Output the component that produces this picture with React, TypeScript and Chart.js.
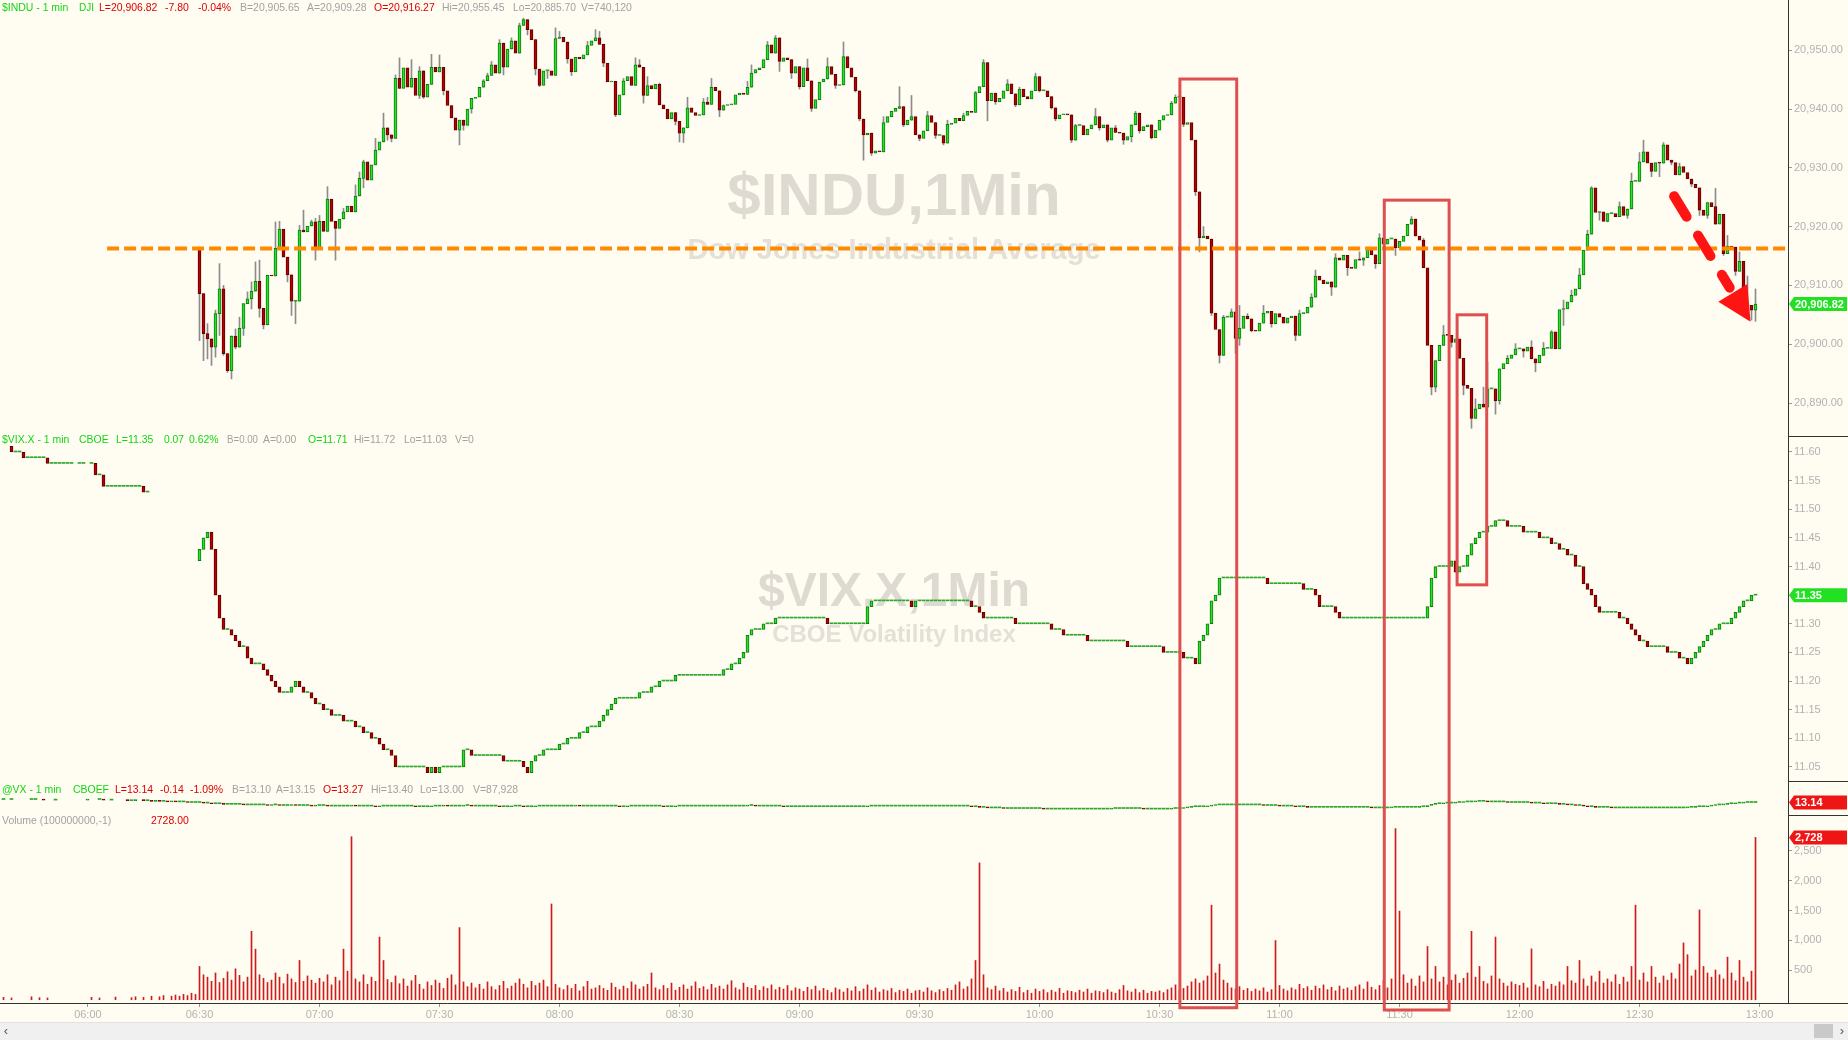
import React, { useEffect, useRef } from "react";
import { Chart, registerables } from "chart.js";

Chart.register(...registerables);

// ======================= DATA =======================
// x values are minutes after 06:30 (bar index); pre-market bars have negative minutes
const TIME_TICK_MIN = [-27.9, 0, 30, 60, 90, 120, 150, 180, 210, 240, 270, 300, 330, 360, 390];
const TIME_TICK_LABEL = ["06:00", "06:30", "07:00", "07:30", "08:00", "08:30", "09:00", "09:30", "10:00", "10:30", "11:00", "11:30", "12:00", "12:30", "13:00"];

// $INDU 1-min closes from 06:30
const INDU_OPEN = 20916.27;
const INDU_CLOSE = [
  20908.6, 20901.8, 20900.9, 20899.5, 20905.2, 20909.4, 20898.4, 20895.5, 20901.4, 20899.5,
  20902.7, 20906.9, 20907.7, 20909.0, 20910.7, 20906.1, 20903.3, 20911.7, 20911.6, 20916.3,
  20919.6, 20914.8, 20911.8, 20907.3, 20907.3, 20919.4, 20919.1, 20920.1, 20920.8, 20916.4,
  20920.9, 20919.2, 20924.7, 20920.9, 20919.7, 20921.3, 20922.5, 20923.5, 20922.5, 20925.2,
  20928.2, 20931.0, 20927.9, 20930.5, 20933.0, 20934.4, 20936.8, 20935.6, 20935.0, 20945.2,
  20943.5, 20947.0, 20943.7, 20945.2, 20942.3, 20946.5, 20942.0, 20944.2, 20947.1, 20946.3,
  20947.1, 20943.1, 20940.6, 20938.5, 20936.4, 20938.1, 20937.2, 20940.0, 20941.8, 20942.0,
  20943.7, 20944.8, 20945.7, 20947.5, 20946.1, 20951.2, 20947.1, 20950.2, 20951.6, 20949.5,
  20954.2, 20955.2, 20953.5, 20951.8, 20946.8, 20944.0, 20946.5, 20946.5, 20945.7, 20952.0,
  20952.2, 20951.4, 20948.5, 20946.3, 20948.8, 20948.5, 20949.2, 20950.8, 20951.6, 20952.1,
  20951.0, 20947.8, 20944.6, 20944.7, 20939.0, 20942.4, 20944.8, 20945.5, 20944.0, 20947.5,
  20947.1, 20942.3, 20944.0, 20943.4, 20944.2, 20940.7, 20940.0, 20938.3, 20939.4, 20937.9,
  20935.9, 20936.8, 20940.2, 20939.4, 20938.9, 20939.0, 20941.2, 20940.8, 20943.7, 20943.1,
  20939.8, 20940.6, 20940.7, 20940.8, 20942.4, 20942.7, 20942.5, 20943.7, 20946.1, 20946.7,
  20947.0, 20948.4, 20950.9, 20949.5, 20952.1, 20948.1, 20948.7, 20948.4, 20946.1, 20947.2,
  20943.8, 20947.0, 20944.8, 20940.1, 20941.6, 20944.6, 20945.1, 20947.2, 20945.9, 20944.0,
  20944.1, 20948.9, 20947.0, 20945.4, 20943.1, 20938.3, 20935.6, 20935.9, 20932.5, 20932.9,
  20932.7, 20937.7, 20938.7, 20939.6, 20940.1, 20940.4, 20937.3, 20938.1, 20938.7, 20935.6,
  20935.0, 20936.3, 20938.9, 20937.7, 20935.5, 20935.5, 20934.2, 20937.4, 20937.6, 20938.4,
  20938.0, 20938.9, 20939.6, 20939.4, 20942.8, 20943.8, 20947.9, 20941.4, 20942.7, 20941.2,
  20941.8, 20943.1, 20944.3, 20942.6, 20940.7, 20943.4, 20942.1, 20941.7, 20943.1, 20945.5,
  20943.1, 20943.1, 20942.1, 20940.2, 20938.3, 20939.0, 20939.1, 20939.0, 20934.7, 20937.2,
  20937.2, 20935.6, 20936.6, 20937.3, 20938.7, 20936.8, 20937.3, 20934.7, 20936.8, 20936.0,
  20935.9, 20934.7, 20935.3, 20937.3, 20939.3, 20936.3, 20937.0, 20937.3, 20935.1, 20936.4,
  20938.1, 20938.9, 20939.0, 20941.0, 20942.0, 20942.0, 20937.4, 20937.7, 20934.7, 20925.9,
  20918.1, 20918.4, 20917.9, 20905.3, 20902.5, 20898.1, 20904.6, 20904.6, 20905.5, 20901.0,
  20902.7, 20904.8, 20904.3, 20902.3, 20902.2, 20903.6, 20905.3, 20905.6, 20903.5, 20905.2,
  20904.6, 20903.6, 20904.5, 20904.8, 20901.5, 20905.2, 20905.3, 20906.3, 20908.0, 20911.6,
  20910.9, 20910.3, 20910.6, 20909.7, 20914.7, 20914.3, 20915.1, 20913.0, 20912.9, 20914.4,
  20914.3, 20914.7, 20916.4, 20915.2, 20913.7, 20918.1, 20917.0, 20917.9, 20917.9, 20916.4,
  20917.5, 20918.4, 20920.4, 20921.3, 20918.4, 20917.7, 20913.0, 20899.8, 20892.7, 20897.2,
  20899.8, 20901.6, 20901.5, 20900.3, 20900.9, 20897.6, 20893.0, 20892.5, 20887.4, 20889.0,
  20889.8, 20889.3, 20892.4, 20892.4, 20890.4, 20895.8, 20896.7, 20897.6, 20898.2, 20899.2,
  20899.2, 20898.8, 20899.5, 20897.5, 20896.8, 20898.1, 20899.3, 20899.3, 20902.1, 20899.2,
  20905.9, 20906.0, 20907.2, 20908.3, 20909.4, 20911.8, 20916.0, 20918.7, 20926.6, 20922.4,
  20922.5, 20920.9, 20922.2, 20922.2, 20921.7, 20923.4, 20921.9, 20923.0, 20927.7, 20927.7,
  20931.0, 20932.7, 20930.8, 20929.4, 20930.9, 20930.8, 20933.9, 20931.3, 20930.9, 20928.8,
  20930.2, 20929.2, 20928.1, 20927.2, 20926.6, 20922.8, 20921.9, 20924.1, 20923.4, 20920.4,
  20922.1, 20915.4, 20916.7, 20916.5, 20912.4, 20914.1, 20906.9, 20906.6, 20905.8, 20906.82,
];

// visible wick extremes: [minute, price]
const INDU_WICK_HI = [
  [2, 20903.5], [4, 20905.8], [5, 20913.7], [6, 20910.0], [9, 20902.6], [10, 20904.6], [12, 20908.9], [13, 20910.6],
  [14, 20914.0], [15, 20914.3], [17, 20911.7], [19, 20920.8], [20, 20920.9], [25, 20920.2], [26, 20922.8], [28, 20921.1],
  [29, 20921.4], [30, 20921.9], [32, 20926.8], [36, 20923.1], [39, 20927.1], [40, 20929.3], [41, 20931.3], [44, 20935.0],
  [46, 20939.3], [49, 20945.8], [50, 20948.7], [53, 20948.4], [55, 20947.2], [58, 20949.3], [60, 20949.2], [71, 20945.0],
  [72, 20946.1], [73, 20948.1], [75, 20951.8], [78, 20952.1], [80, 20954.6], [81, 20955.45], [89, 20953.8], [90, 20953.2],
  [97, 20951.5], [99, 20953.5], [100, 20953.2], [106, 20945.2], [109, 20948.7], [110, 20948.4], [112, 20945.5], [115, 20944.4],
  [122, 20942.0], [126, 20941.8], [127, 20942.0], [128, 20945.2], [131, 20940.7], [137, 20944.7], [138, 20947.5], [142, 20951.5],
  [144, 20952.5], [152, 20948.5], [157, 20948.7], [161, 20951.4], [171, 20938.7], [175, 20943.8], [178, 20942.3], [182, 20939.6],
  [187, 20938.1], [191, 20939.3], [194, 20943.0], [196, 20948.4], [202, 20945.0], [205, 20943.7], [209, 20946.1], [219, 20937.4],
  [224, 20940.1], [229, 20937.2], [234, 20939.6], [243, 20941.3], [244, 20942.4], [245, 20942.3], [251, 20920.0], [256, 20904.9],
  [258, 20906.0], [260, 20906.6], [262, 20905.2], [266, 20906.6], [275, 20905.8], [278, 20908.6], [279, 20912.6], [284, 20915.4],
  [290, 20915.7], [295, 20918.8], [303, 20921.7], [304, 20921.1], [306, 20918.0], [311, 20903.2], [319, 20890.7], [321, 20892.7],
  [322, 20897.0], [327, 20898.1], [329, 20900.1], [333, 20900.6], [336, 20900.3], [338, 20902.3], [341, 20907.5], [343, 20909.2],
  [345, 20912.9], [347, 20919.4], [348, 20926.8], [355, 20924.2], [358, 20929.1], [360, 20932.6], [361, 20934.7], [366, 20934.3],
  [370, 20930.8], [379, 20926.5], [382, 20918.5], [385, 20915.7], [387, 20911.6], [389, 20909.4],
];
const INDU_WICK_LO = [
  [0, 20900.6], [1, 20897.2], [2, 20897.5], [3, 20896.4], [4, 20897.8], [5, 20901.5], [6, 20898.1], [7, 20895.2],
  [8, 20894.1], [9, 20899.2], [11, 20901.5], [13, 20906.0], [15, 20904.6], [16, 20902.6], [22, 20910.6], [23, 20904.9],
  [24, 20903.5], [29, 20914.3], [34, 20914.3], [41, 20926.6], [47, 20934.7], [48, 20934.4], [55, 20941.8], [56, 20941.8],
  [61, 20942.4], [63, 20939.3], [65, 20933.9], [66, 20936.4], [68, 20939.3], [76, 20945.8], [81, 20954.6], [82, 20952.6],
  [84, 20945.8], [85, 20943.8], [87, 20945.2], [92, 20947.8], [93, 20945.7], [101, 20947.2], [104, 20938.7], [111, 20941.0],
  [119, 20937.3], [120, 20934.4], [121, 20934.3], [130, 20938.7], [145, 20946.4], [148, 20945.2], [150, 20943.4], [153, 20939.6],
  [159, 20943.5], [164, 20942.9], [165, 20938.0], [166, 20931.3], [168, 20932.1], [176, 20937.0], [180, 20934.6], [184, 20935.0],
  [186, 20933.9], [197, 20938.0], [199, 20940.8], [204, 20940.4], [210, 20942.9], [213, 20940.0], [214, 20938.0], [218, 20934.3],
  [225, 20936.4], [227, 20934.4], [231, 20934.0], [233, 20934.4], [235, 20935.9], [238, 20934.9], [246, 20937.0], [249, 20925.3],
  [250, 20915.7], [253, 20904.9], [255, 20896.8], [259, 20898.4], [260, 20899.8], [263, 20902.1], [268, 20902.9], [274, 20900.6],
  [283, 20908.3], [287, 20911.7], [291, 20913.4], [294, 20912.9], [299, 20915.1], [308, 20891.4], [309, 20891.9], [313, 20899.5],
  [316, 20891.4], [318, 20885.7], [324, 20888.1], [325, 20889.8], [331, 20897.8], [334, 20895.3], [341, 20903.2], [350, 20921.1],
  [352, 20920.8], [357, 20921.4], [363, 20928.5], [365, 20928.5], [368, 20930.5], [373, 20926.8], [375, 20921.9], [377, 20921.4],
  [381, 20915.1], [384, 20911.7], [386, 20905.8], [387, 20905.2], [388, 20904.1], [389, 20903.9],
];
const INDU_TICKS = [20890, 20900, 20910, 20920, 20930, 20940, 20950];

// $VIX.X
const VIX_PRE_OPEN = 11.61;
const VIX_PRE_MIN = [-47, -46, -45, -44, -43, -42, -41, -40, -39, -38, -37, -36, -35, -34, -33, -32, -30, -29, -27, -26, -25, -24, -23, -22, -21, -20, -19, -18, -17, -16, -15, -14, -13];
const VIX_PRE_CLOSE = [11.60, 11.60, 11.60, 11.59, 11.59, 11.59, 11.59, 11.59, 11.59, 11.58, 11.58, 11.58, 11.58, 11.58, 11.58, 11.58, 11.58, 11.58, 11.58, 11.56, 11.56, 11.54, 11.54, 11.54, 11.54, 11.54, 11.54, 11.54, 11.54, 11.54, 11.54, 11.53, 11.53];
const VIX_OPEN = 11.41;
const VIX_CLOSE = [
  11.43, 11.45, 11.46, 11.43, 11.35, 11.31, 11.29, 11.29, 11.28, 11.27,
  11.26, 11.26, 11.24, 11.23, 11.23, 11.23, 11.22, 11.21, 11.20, 11.19,
  11.18, 11.18, 11.18, 11.19, 11.20, 11.19, 11.18, 11.18, 11.17, 11.16,
  11.16, 11.15, 11.15, 11.14, 11.14, 11.14, 11.13, 11.13, 11.13, 11.12,
  11.12, 11.11, 11.11, 11.10, 11.10, 11.09, 11.08, 11.08, 11.07, 11.05,
  11.05, 11.05, 11.05, 11.05, 11.05, 11.05, 11.05, 11.04, 11.05, 11.04,
  11.05, 11.05, 11.05, 11.05, 11.05, 11.05, 11.08, 11.08, 11.07, 11.07,
  11.07, 11.07, 11.07, 11.07, 11.07, 11.07, 11.06, 11.06, 11.06, 11.06,
  11.06, 11.05, 11.04, 11.06, 11.07, 11.07, 11.08, 11.08, 11.08, 11.08,
  11.09, 11.09, 11.10, 11.10, 11.10, 11.11, 11.11, 11.12, 11.12, 11.12,
  11.13, 11.14, 11.15, 11.16, 11.17, 11.17, 11.17, 11.17, 11.17, 11.17,
  11.18, 11.18, 11.18, 11.19, 11.19, 11.20, 11.20, 11.20, 11.20, 11.21,
  11.21, 11.21, 11.21, 11.21, 11.21, 11.21, 11.21, 11.21, 11.21, 11.21,
  11.21, 11.22, 11.22, 11.23, 11.23, 11.24, 11.25, 11.28, 11.29, 11.29,
  11.29, 11.30, 11.30, 11.30, 11.31, 11.31, 11.31, 11.31, 11.31, 11.31,
  11.31, 11.31, 11.31, 11.31, 11.31, 11.31, 11.31, 11.30, 11.30, 11.30,
  11.30, 11.30, 11.30, 11.30, 11.30, 11.30, 11.30, 11.33, 11.34, 11.34,
  11.34, 11.34, 11.34, 11.34, 11.34, 11.34, 11.34, 11.34, 11.33, 11.34,
  11.34, 11.34, 11.34, 11.34, 11.34, 11.34, 11.34, 11.34, 11.34, 11.34,
  11.34, 11.34, 11.34, 11.33, 11.33, 11.32, 11.31, 11.31, 11.31, 11.31,
  11.31, 11.31, 11.31, 11.31, 11.30, 11.30, 11.30, 11.30, 11.30, 11.30,
  11.30, 11.30, 11.30, 11.29, 11.29, 11.29, 11.28, 11.28, 11.28, 11.28,
  11.28, 11.28, 11.27, 11.27, 11.27, 11.27, 11.27, 11.27, 11.27, 11.27,
  11.27, 11.27, 11.26, 11.26, 11.26, 11.26, 11.26, 11.26, 11.26, 11.26,
  11.26, 11.25, 11.25, 11.25, 11.25, 11.25, 11.24, 11.24, 11.24, 11.23,
  11.27, 11.28, 11.30, 11.34, 11.35, 11.38, 11.38, 11.38, 11.38, 11.38,
  11.38, 11.38, 11.38, 11.38, 11.38, 11.38, 11.38, 11.37, 11.37, 11.37,
  11.37, 11.37, 11.37, 11.37, 11.37, 11.37, 11.36, 11.36, 11.36, 11.35,
  11.33, 11.33, 11.33, 11.33, 11.32, 11.31, 11.31, 11.31, 11.31, 11.31,
  11.31, 11.31, 11.31, 11.31, 11.31, 11.31, 11.31, 11.31, 11.31, 11.31,
  11.31, 11.31, 11.31, 11.31, 11.31, 11.31, 11.31, 11.33, 11.38, 11.40,
  11.40, 11.40, 11.40, 11.41, 11.39, 11.40, 11.40, 11.42, 11.44, 11.45,
  11.46, 11.46, 11.47, 11.47, 11.48, 11.48, 11.48, 11.47, 11.47, 11.47,
  11.47, 11.46, 11.46, 11.46, 11.46, 11.45, 11.45, 11.45, 11.44, 11.44,
  11.43, 11.43, 11.42, 11.42, 11.40, 11.40, 11.37, 11.36, 11.35, 11.33,
  11.32, 11.32, 11.32, 11.32, 11.32, 11.31, 11.31, 11.30, 11.29, 11.28,
  11.27, 11.27, 11.26, 11.26, 11.26, 11.26, 11.26, 11.25, 11.25, 11.25,
  11.24, 11.24, 11.23, 11.24, 11.25, 11.26, 11.27, 11.28, 11.29, 11.29,
  11.30, 11.30, 11.30, 11.31, 11.32, 11.33, 11.34, 11.34, 11.35, 11.35,
];
const VIX_TICKS = [11.05, 11.10, 11.15, 11.20, 11.25, 11.30, 11.35, 11.40, 11.45, 11.50, 11.55, 11.60];

// @VX futures
const VX_PRE_OPEN = 13.19;
const VX_PRE_MIN = [-49, -47, -42, -41, -39, -36, -28, -25, -24, -22, -18, -17, -16, -14, -13, -12, -11, -10, -9, -8, -7, -6, -5, -4, -3, -2, -1];
const VX_PRE_CLOSE = [13.19, 13.19, 13.19, 13.19, 13.18, 13.18, 13.19, 13.19, 13.18, 13.18, 13.17, 13.17, 13.18, 13.17, 13.17, 13.16, 13.17, 13.16, 13.16, 13.15, 13.16, 13.15, 13.15, 13.15, 13.14, 13.14, 13.14];
const VX_OPEN = 13.14;
const VX_CLOSE = [
  13.14, 13.13, 13.13, 13.12, 13.12, 13.12, 13.11, 13.11, 13.11, 13.11,
  13.11, 13.10, 13.10, 13.10, 13.10, 13.10, 13.10, 13.09, 13.10, 13.10,
  13.09, 13.09, 13.09, 13.10, 13.09, 13.09, 13.09, 13.09, 13.08, 13.09,
  13.09, 13.09, 13.08, 13.08, 13.08, 13.08, 13.08, 13.08, 13.09, 13.08,
  13.08, 13.08, 13.08, 13.08, 13.07, 13.08, 13.08, 13.08, 13.08, 13.08,
  13.08, 13.08, 13.08, 13.08, 13.07, 13.07, 13.07, 13.07, 13.08, 13.08,
  13.08, 13.09, 13.08, 13.08, 13.08, 13.08, 13.09, 13.09, 13.08, 13.08,
  13.08, 13.08, 13.08, 13.08, 13.08, 13.07, 13.07, 13.07, 13.08, 13.08,
  13.08, 13.07, 13.07, 13.07, 13.08, 13.08, 13.08, 13.08, 13.08, 13.08,
  13.08, 13.08, 13.08, 13.08, 13.09, 13.08, 13.08, 13.08, 13.08, 13.08,
  13.08, 13.08, 13.08, 13.08, 13.08, 13.07, 13.07, 13.08, 13.08, 13.08,
  13.08, 13.08, 13.08, 13.08, 13.08, 13.08, 13.07, 13.07, 13.07, 13.08,
  13.08, 13.08, 13.08, 13.08, 13.08, 13.08, 13.08, 13.08, 13.08, 13.08,
  13.08, 13.08, 13.08, 13.08, 13.08, 13.08, 13.08, 13.09, 13.09, 13.08,
  13.08, 13.08, 13.08, 13.08, 13.08, 13.08, 13.07, 13.07, 13.07, 13.07,
  13.07, 13.07, 13.07, 13.07, 13.07, 13.07, 13.07, 13.07, 13.07, 13.07,
  13.07, 13.07, 13.07, 13.07, 13.07, 13.07, 13.07, 13.08, 13.08, 13.08,
  13.08, 13.08, 13.08, 13.08, 13.08, 13.08, 13.08, 13.08, 13.08, 13.08,
  13.08, 13.08, 13.08, 13.08, 13.08, 13.08, 13.08, 13.08, 13.08, 13.08,
  13.08, 13.08, 13.08, 13.07, 13.07, 13.06, 13.06, 13.05, 13.05, 13.05,
  13.05, 13.04, 13.04, 13.04, 13.04, 13.04, 13.04, 13.04, 13.04, 13.04,
  13.04, 13.03, 13.03, 13.03, 13.03, 13.03, 13.03, 13.03, 13.03, 13.03,
  13.03, 13.03, 13.03, 13.03, 13.03, 13.03, 13.03, 13.03, 13.04, 13.04,
  13.04, 13.04, 13.04, 13.04, 13.04, 13.04, 13.03, 13.03, 13.03, 13.03,
  13.03, 13.03, 13.03, 13.04, 13.04, 13.04, 13.05, 13.06, 13.07, 13.07,
  13.07, 13.07, 13.08, 13.09, 13.10, 13.10, 13.10, 13.10, 13.10, 13.10,
  13.10, 13.10, 13.10, 13.10, 13.10, 13.10, 13.09, 13.09, 13.09, 13.09,
  13.08, 13.08, 13.08, 13.08, 13.07, 13.07, 13.07, 13.06, 13.06, 13.06,
  13.06, 13.06, 13.06, 13.06, 13.06, 13.06, 13.06, 13.06, 13.06, 13.06,
  13.06, 13.06, 13.06, 13.05, 13.05, 13.05, 13.05, 13.05, 13.06, 13.06,
  13.06, 13.06, 13.06, 13.06, 13.06, 13.07, 13.07, 13.09, 13.11, 13.12,
  13.12, 13.13, 13.13, 13.13, 13.14, 13.14, 13.15, 13.15, 13.15, 13.16,
  13.16, 13.16, 13.15, 13.15, 13.15, 13.15, 13.15, 13.14, 13.14, 13.14,
  13.14, 13.14, 13.14, 13.13, 13.13, 13.13, 13.12, 13.12, 13.12, 13.12,
  13.11, 13.11, 13.10, 13.10, 13.09, 13.09, 13.08, 13.07, 13.07, 13.06,
  13.06, 13.06, 13.06, 13.05, 13.05, 13.05, 13.05, 13.05, 13.05, 13.05,
  13.05, 13.05, 13.05, 13.05, 13.05, 13.05, 13.05, 13.05, 13.05, 13.05,
  13.05, 13.05, 13.06, 13.06, 13.07, 13.07, 13.07, 13.08, 13.09, 13.10,
  13.10, 13.11, 13.12, 13.12, 13.13, 13.13, 13.14, 13.14, 13.14, 13.14,
];

// Volume (in 100,000,000 units as labelled)
const VOL_PRE_MIN = [-49, -47, -42, -40, -38, -27, -25, -21, -17, -16, -14, -12, -10, -9, -7, -6, -5, -4, -3, -2, -1];
const VOL_PRE = [40, 30, 50, 35, 30, 40, 30, 45, 35, 50, 40, 60, 50, 70, 60, 80, 60, 90, 70, 110, 90];
const VOL = [
  560, 420, 380, 310, 450, 290, 360, 470, 330, 520,
  410, 300, 380, 1150, 850, 420, 360, 290, 330, 450,
  380, 270, 430, 350, 290, 660, 310, 400, 330, 280,
  360, 300, 420, 250, 380, 320, 850, 480, 2740, 350,
  300, 420, 260, 380, 310, 1054, 660, 340, 290, 400,
  270, 350, 230, 320, 410, 260, 180, 300, 240, 330,
  280, 190, 360, 420, 250, 1213, 300, 220, 280, 200,
  260, 180, 300, 220, 170, 240, 310, 190, 230, 280,
  350, 260, 200, 310, 240, 280, 330, 220, 1610, 260,
  200, 170, 240, 190, 260, 150, 220, 310, 180, 200,
  240, 190, 160, 280, 210, 170, 230, 190, 300, 250,
  180, 220, 260, 450, 200, 170, 240, 190, 280, 160,
  210, 250, 180, 230, 300, 190, 220, 170, 260, 200,
  230, 180, 250, 320, 200, 170, 280, 210, 190, 240,
  160, 220, 190, 250, 170, 210, 180, 240, 150, 200,
  180, 140, 210, 170, 230, 150, 190, 160, 120, 200,
  170, 130, 190, 150, 220, 140, 180, 250, 160, 200,
  130, 170, 150, 190, 120, 160, 140, 180, 110, 150,
  160, 130, 200, 150, 120, 170, 140, 190, 160, 250,
  300, 180, 220, 350, 660, 2300, 420, 200, 170, 230,
  150, 190, 130, 170, 140, 210, 120, 160, 110, 180,
  140, 170, 120, 160, 130, 190, 110, 150, 140, 120,
  160, 130, 180, 110, 150, 140, 120, 170, 130, 110,
  170, 240, 150, 130, 180, 120, 160, 110, 140, 130,
  150, 120, 170, 200, 250, 160, 190, 230, 300, 350,
  280, 320, 400, 1590, 450, 600, 330, 280, 200, 180,
  220, 160, 190, 140, 180, 150, 200, 130, 170, 995,
  240, 180, 150, 200, 170, 260, 190, 220, 160, 230,
  190, 250, 170, 210, 150, 230, 180, 200, 160, 220,
  250, 180, 300, 210, 170, 240, 330, 200, 350, 2877,
  1490, 420, 280, 350, 230, 400, 300, 895, 350, 560,
  300, 380, 250, 330, 420, 280, 360, 450, 1150, 380,
  560, 310, 270, 400, 1054, 350, 280, 230, 300, 260,
  240, 280, 200, 855, 250, 220, 310, 180, 260, 230,
  300, 250, 560, 320, 280, 660, 350, 230, 400, 300,
  480, 280, 350, 300, 420, 260, 380, 300, 560, 1590,
  330, 450, 300, 560, 380, 280, 400, 330, 450, 350,
  600, 955, 757, 400, 500, 1510, 560, 450, 380, 500,
  420, 350, 716, 450, 320, 660, 380, 300, 480, 2728,
];
const VOL_TICKS = [500, 1000, 1500, 2000, 2500];

// Annotations (in data units)
const OPEN_LINE_PRICE = 20916.27;
const OPEN_LINE_FROM_MIN = -23.1;
const BOX_FROM_MIN = [245.1, 296.2, 314.4];
const BOX_TO_MIN = [259.3, 312.4, 321.8];
const BOX_TOP_PRICE = [20945.1, 20924.5, 20905.0];
const BOX_BOTTOM_AXIS = ["yVol", "yVol", "yVix"];
const BOX_BOTTOM_VALUE = [-134, -172, 11.368];
const ARROW_FROM = [368, 20925.9];
const ARROW_TO = [387.75, 20903.8];

// ======================= STYLE / LAYOUT =======================
const W = 1848;
const H = 1040;
const AXIS_W = 60;
const BG = "#fffcf2";
const FONT = "Arial, 'Liberation Sans', sans-serif";
const GREEN_TXT = "#11d611";
const RED_TXT = "#dd0000";
const GRAY_TXT = "#a2a2a2";
const UP_FILL = "#2be02b";
const UP_EDGE = "#0c7a0c";
const DN_FILL = "#b80000";
const DN_EDGE = "#5e0000";
const AXIS_LINE = "#333333";
const LABEL_COLOR = "#b2b2b2";

const HEADERS = [
  { y: 8, parts: [["$INDU - 1 min", GREEN_TXT, 2], ["DJI", GREEN_TXT, 79], ["L=20,906.82", RED_TXT, 99], ["-7.80", RED_TXT, 165], ["-0.04%", RED_TXT, 198], ["B=20,905.65", GRAY_TXT, 240], ["A=20,909.28", GRAY_TXT, 307], ["O=20,916.27", RED_TXT, 374], ["Hi=20,955.45", GRAY_TXT, 442], ["Lo=20,885.70", GRAY_TXT, 513], ["V=740,120", GRAY_TXT, 581]] },
  { y: 440, parts: [["$VIX.X - 1 min", GREEN_TXT, 2], ["CBOE", GREEN_TXT, 79], ["L=11.35", GREEN_TXT, 116], ["0.07", GREEN_TXT, 164], ["0.62%", GREEN_TXT, 189], ["B=0.00", GRAY_TXT, 227], ["A=0.00", GRAY_TXT, 263], ["O=11.71", GREEN_TXT, 308], ["Hi=11.72", GRAY_TXT, 354], ["Lo=11.03", GRAY_TXT, 404], ["V=0", GRAY_TXT, 455]] },
  { y: 790, parts: [["@VX - 1 min", GREEN_TXT, 2], ["CBOEF", GREEN_TXT, 73], ["L=13.14", RED_TXT, 115], ["-0.14", RED_TXT, 160], ["-1.09%", RED_TXT, 190], ["B=13.10", GRAY_TXT, 232], ["A=13.15", GRAY_TXT, 276], ["O=13.27", RED_TXT, 323], ["Hi=13.40", GRAY_TXT, 371], ["Lo=13.00", GRAY_TXT, 420], ["V=87,928", GRAY_TXT, 473]] },
  { y: 821, parts: [["Volume (100000000,-1)", GRAY_TXT, 2], ["2728.00", RED_TXT, 151]] },
];

// ======================= BUILD =======================
type Bar = { x: number; y: [number, number] };

function bodies(mins: number[], closes: number[], open0: number): Bar[] {
  const out: Bar[] = [];
  for (let i = 0; i < closes.length; i++) {
    const o = i === 0 ? open0 : closes[i - 1];
    out.push({ x: mins[i], y: [o, closes[i]] });
  }
  return out;
}

const SESSION_MIN = INDU_CLOSE.map((_, i) => i);
const INDU_BARS = bodies(SESSION_MIN, INDU_CLOSE, INDU_OPEN);
const VIX_BARS = [...bodies(VIX_PRE_MIN, VIX_PRE_CLOSE, VIX_PRE_OPEN), ...bodies(VIX_CLOSE.map((_, i) => i), VIX_CLOSE, VIX_OPEN)];
const VX_BARS = [...bodies(VX_PRE_MIN, VX_PRE_CLOSE, VX_PRE_OPEN), ...bodies(VX_CLOSE.map((_, i) => i), VX_CLOSE, VX_OPEN)];
const VOL_POINTS = [
  ...VOL_PRE_MIN.map((m, i) => ({ x: m, y: VOL_PRE[i] })),
  ...VOL.map((v, i) => ({ x: i, y: v })),
];

const hiMap = new Map(INDU_WICK_HI.map(([m, p]) => [m, p]));
const loMap = new Map(INDU_WICK_LO.map(([m, p]) => [m, p]));
const INDU_WICKS: Bar[] = [];
INDU_BARS.forEach((b) => {
  const hi = hiMap.get(b.x);
  const lo = loMap.get(b.x);
  if (hi === undefined && lo === undefined) return;
  const top = Math.max(b.y[0], b.y[1]);
  const bot = Math.min(b.y[0], b.y[1]);
  INDU_WICKS.push({ x: b.x, y: [Math.min(bot, lo ?? bot), Math.max(top, hi ?? top)] });
});

const fill = (ctx: any) => {
  const r = ctx.raw as Bar;
  if (!r) return UP_FILL;
  const [o, c] = r.y;
  return c > o ? UP_FILL : c < o ? DN_FILL : "#2aa82a";
};
const edge = (ctx: any) => {
  const r = ctx.raw as Bar;
  if (!r) return UP_EDGE;
  const [o, c] = r.y;
  return c >= o ? UP_EDGE : DN_EDGE;
};
const edgeW = (ctx: any) => {
  const r = ctx.raw as Bar;
  if (!r) return 0;
  return r.y[0] === r.y[1] ? 0 : 1;
};

function candleSet(data: Bar[], yAxisID: string) {
  return {
    type: "bar",
    data,
    yAxisID,
    xAxisID: "x",
    grouped: false,
    barThickness: 3,
    minBarLength: 1,
    backgroundColor: fill,
    borderColor: edge,
    borderWidth: edgeW,
    borderSkipped: false,
    order: 2,
  };
}

function yAxis(weight: number, min: number, max: number, ticks: number[], fmt: (v: number) => string, show = true) {
  return {
    type: "linear",
    position: "right",
    stack: "panels",
    stackWeight: weight,
    min,
    max,
    offset: false,
    beginAtZero: false,
    border: { display: true, color: AXIS_LINE, width: 1 },
    grid: { display: true, drawOnChartArea: false, drawTicks: true, tickLength: 4, color: "#9a9a9a" },
    ticks: { display: show, color: LABEL_COLOR, padding: 2, autoSkip: false, font: { size: 11, family: FONT }, callback: (v: any) => fmt(Number(v)) },
    afterBuildTicks: (s: any) => { s.ticks = ticks.map((v) => ({ value: v })); },
    afterFit: (s: any) => {
      s.width = AXIS_W;
      s.paddingTop = 0;
      s.paddingBottom = 0;
      s.paddingLeft = 0;
      s.paddingRight = 0;
    },
  };
}

const fmtPrice = (v: number) => v.toLocaleString("en-US", { minimumFractionDigits: 2, maximumFractionDigits: 2 });
const fmtVol = (v: number) => v.toLocaleString("en-US");

function drawTag(ctx: CanvasRenderingContext2D, x0: number, y: number, text: string, color: string) {
  ctx.save();
  ctx.fillStyle = color;
  ctx.beginPath();
  ctx.moveTo(x0 + 1, y);
  ctx.lineTo(x0 + 6, y - 7);
  ctx.lineTo(W - 1, y - 7);
  ctx.lineTo(W - 1, y + 7);
  ctx.lineTo(x0 + 6, y + 7);
  ctx.closePath();
  ctx.fill();
  ctx.fillStyle = "#ffffff";
  ctx.font = `bold 11px ${FONT}`;
  ctx.textBaseline = "middle";
  ctx.textAlign = "left";
  ctx.fillText(text, x0 + 7, y + 0.5);
  ctx.restore();
}

const overlay = {
  id: "overlay",
  beforeDraw(chart: any) {
    const ctx = chart.ctx as CanvasRenderingContext2D;
    ctx.save();
    ctx.fillStyle = BG;
    ctx.fillRect(0, 0, chart.width, chart.height);
    ctx.restore();
  },
  beforeDatasetsDraw(chart: any) {
    const ctx = chart.ctx as CanvasRenderingContext2D;
    const cx = (chart.chartArea.left + chart.chartArea.right) / 2;
    ctx.save();
    ctx.textAlign = "center";
    ctx.textBaseline = "middle";
    ctx.fillStyle = "#dedad2";
    ctx.font = `bold 60px ${FONT}`;
    ctx.fillText("$INDU,1Min", cx, 198);
    ctx.fillStyle = "#e4e0d8";
    ctx.font = `bold 29px ${FONT}`;
    ctx.fillText("Dow Jones Industrial Average", cx, 251);
    ctx.fillStyle = "#dedad2";
    ctx.font = `bold 48px ${FONT}`;
    ctx.fillText("$VIX.X,1Min", cx, 593);
    ctx.fillStyle = "#e4e0d8";
    ctx.font = `bold 24px ${FONT}`;
    ctx.fillText("CBOE Volatility Index", cx, 635);
    ctx.restore();
  },
  afterDatasetsDraw(chart: any) {
    const ctx = chart.ctx as CanvasRenderingContext2D;
    const xs = chart.scales.x;
    const yI = chart.scales.yIndu;
    ctx.save();
    // red highlight boxes
    ctx.strokeStyle = "#de5050";
    ctx.lineWidth = 3;
    for (let i = 0; i < BOX_FROM_MIN.length; i++) {
      const x0 = xs.getPixelForValue(BOX_FROM_MIN[i]);
      const x1 = xs.getPixelForValue(BOX_TO_MIN[i]);
      const y0 = yI.getPixelForValue(BOX_TOP_PRICE[i]);
      const y1 = chart.scales[BOX_BOTTOM_AXIS[i]].getPixelForValue(BOX_BOTTOM_VALUE[i]);
      ctx.strokeRect(x0, y0, x1 - x0, y1 - y0);
    }
    // dashed red arrow
    const p0x = xs.getPixelForValue(ARROW_FROM[0]);
    const p0y = yI.getPixelForValue(ARROW_FROM[1]);
    const p1x = xs.getPixelForValue(ARROW_TO[0]);
    const p1y = yI.getPixelForValue(ARROW_TO[1]);
    const len = Math.hypot(p1x - p0x, p1y - p0y);
    const ux = (p1x - p0x) / len;
    const uy = (p1y - p0y) / len;
    const headLen = 34;
    const headHalf = 17;
    const bx = p1x - ux * headLen;
    const by = p1y - uy * headLen;
    ctx.strokeStyle = "#ff1414";
    ctx.fillStyle = "#ff1414";
    ctx.lineWidth = 10;
    ctx.lineCap = "round";
    ctx.setLineDash([24, 22]);
    ctx.beginPath();
    ctx.moveTo(p0x + ux * 5, p0y + uy * 5);
    ctx.lineTo(bx - ux * 6, by - uy * 6);
    ctx.stroke();
    ctx.setLineDash([]);
    ctx.beginPath();
    ctx.moveTo(p1x, p1y);
    ctx.lineTo(bx - uy * headHalf, by + ux * headHalf);
    ctx.lineTo(bx + uy * headHalf, by - ux * headHalf);
    ctx.closePath();
    ctx.fill();
    ctx.restore();
  },
  afterDraw(chart: any) {
    const ctx = chart.ctx as CanvasRenderingContext2D;
    const area = chart.chartArea;
    const right = area.right;
    ctx.save();
    // headers (each part squeezed to fit before the next one)
    ctx.font = `11px ${FONT}`;
    ctx.textBaseline = "middle";
    ctx.textAlign = "left";
    HEADERS.forEach((h) => {
      h.parts.forEach(([t, c, x], i) => {
        ctx.fillStyle = c as string;
        const next = h.parts[i + 1];
        const natural = ctx.measureText(t as string).width;
        const room = next ? (next[2] as number) - (x as number) - 5 : natural;
        ctx.fillText(t as string, x as number, h.y, Math.min(natural * 0.95, room));
      });
    });
    // panel separators in the axis strip and the x-axis line extension
    ctx.strokeStyle = AXIS_LINE;
    ctx.lineWidth = 1;
    const seps = [chart.scales.yIndu.bottom, chart.scales.yVix.bottom, chart.scales.yVx.bottom];
    seps.forEach((y: number) => {
      ctx.beginPath();
      ctx.moveTo(right, Math.round(y) + 0.5);
      ctx.lineTo(W, Math.round(y) + 0.5);
      ctx.stroke();
    });
    ctx.beginPath();
    ctx.moveTo(right, Math.round(area.bottom) + 0.5);
    ctx.lineTo(W, Math.round(area.bottom) + 0.5);
    ctx.stroke();
    // last value tags
    drawTag(ctx, right, chart.scales.yIndu.getPixelForValue(INDU_CLOSE[INDU_CLOSE.length - 1]), fmtPrice(INDU_CLOSE[INDU_CLOSE.length - 1]), "#22e022");
    drawTag(ctx, right, chart.scales.yVix.getPixelForValue(VIX_CLOSE[VIX_CLOSE.length - 1]), VIX_CLOSE[VIX_CLOSE.length - 1].toFixed(2), "#22e022");
    drawTag(ctx, right, chart.scales.yVx.getPixelForValue(VX_CLOSE[VX_CLOSE.length - 1]), VX_CLOSE[VX_CLOSE.length - 1].toFixed(2), "#ee1515");
    drawTag(ctx, right, chart.scales.yVol.getPixelForValue(VOL[VOL.length - 1]), fmtVol(VOL[VOL.length - 1]), "#ee1515");
    // scrollbar
    const sy = H - 18;
    ctx.fillStyle = "#f0f0f0";
    ctx.fillRect(0, sy, W, 18);
    ctx.fillStyle = "#e2e2e2";
    ctx.fillRect(0, sy, W, 1);
    ctx.fillStyle = "#c9c9c9";
    ctx.fillRect(1814, sy + 2, 19, 14);
    ctx.fillStyle = "#555555";
    ctx.font = `13px ${FONT}`;
    ctx.textAlign = "center";
    ctx.fillText("\u2039", 6, sy + 9);
    ctx.fillText("\u203A", W - 6, sy + 9);
    ctx.restore();
  },
};

export default function App() {
  const ref = useRef<HTMLCanvasElement>(null);
  useEffect(() => {
    document.body.style.margin = "0";
    document.body.style.background = BG;
    const canvas = ref.current;
    if (!canvas) return;
    const chart = new Chart(canvas, {
      type: "bar",
      data: {
        datasets: [
          { type: "bar", data: INDU_WICKS, yAxisID: "yIndu", xAxisID: "x", grouped: false, barThickness: 1, backgroundColor: "#8c8c8c", borderWidth: 0, order: 3 } as any,
          candleSet(INDU_BARS, "yIndu") as any,
          candleSet(VIX_BARS, "yVix") as any,
          candleSet(VX_BARS, "yVx") as any,
          { type: "bar", data: VOL_POINTS, yAxisID: "yVol", xAxisID: "x", grouped: false, barThickness: 1, backgroundColor: "#cc1c1c", borderWidth: 0, order: 2 } as any,
          {
            type: "line",
            data: [{ x: OPEN_LINE_FROM_MIN, y: OPEN_LINE_PRICE }, { x: 397.125, y: OPEN_LINE_PRICE }],
            yAxisID: "yIndu",
            xAxisID: "x",
            borderColor: "#ff8a00",
            borderWidth: 4,
            borderDash: [12, 5],
            pointRadius: 0,
            fill: false,
            order: 0,
          } as any,
        ],
      },
      options: {
        responsive: false,
        maintainAspectRatio: false,
        devicePixelRatio: 1,
        animation: false,
        events: [],
        layout: { padding: { left: 0, right: 0, top: 0, bottom: 18 } },
        plugins: { legend: { display: false }, tooltip: { enabled: false }, title: { display: false } },
        scales: {
          x: {
            type: "linear",
            position: "bottom",
            min: -49.875,
            max: 397.125,
            offset: false,
            border: { display: true, color: AXIS_LINE, width: 1 },
            grid: { display: true, drawOnChartArea: false, drawTicks: true, tickLength: 4, color: "#9a9a9a", offset: false },
            ticks: { color: LABEL_COLOR, padding: 1, maxRotation: 0, autoSkip: false, font: { size: 11, family: FONT }, callback: (_v: any, i: number) => TIME_TICK_LABEL[i] },
            afterBuildTicks: (s: any) => { s.ticks = TIME_TICK_MIN.map((v) => ({ value: v })); },
            afterFit: (s: any) => {
              s.height = 19;
              s.paddingLeft = 0;
              s.paddingRight = 0;
              s.paddingTop = 0;
              s.paddingBottom = 0;
            },
          },
          yIndu: yAxis(436, 20884.39, 20958.54, INDU_TICKS, fmtPrice),
          yVix: yAxis(345, 11.0255, 11.6279, VIX_TICKS, (v) => v.toFixed(2)),
          yVx: yAxis(34, 12.932, 13.498, [], (v) => v.toFixed(2), false),
          yVol: yAxis(188, -54.6, 3105, VOL_TICKS, fmtVol),
        } as any,
      } as any,
      plugins: [overlay as any],
    });
    return () => chart.destroy();
  }, []);
  return (
    <div style={{ width: W, height: H, overflow: "hidden" }}>
      <canvas ref={ref} width={W} height={H} style={{ display: "block" }} />
    </div>
  );
}
